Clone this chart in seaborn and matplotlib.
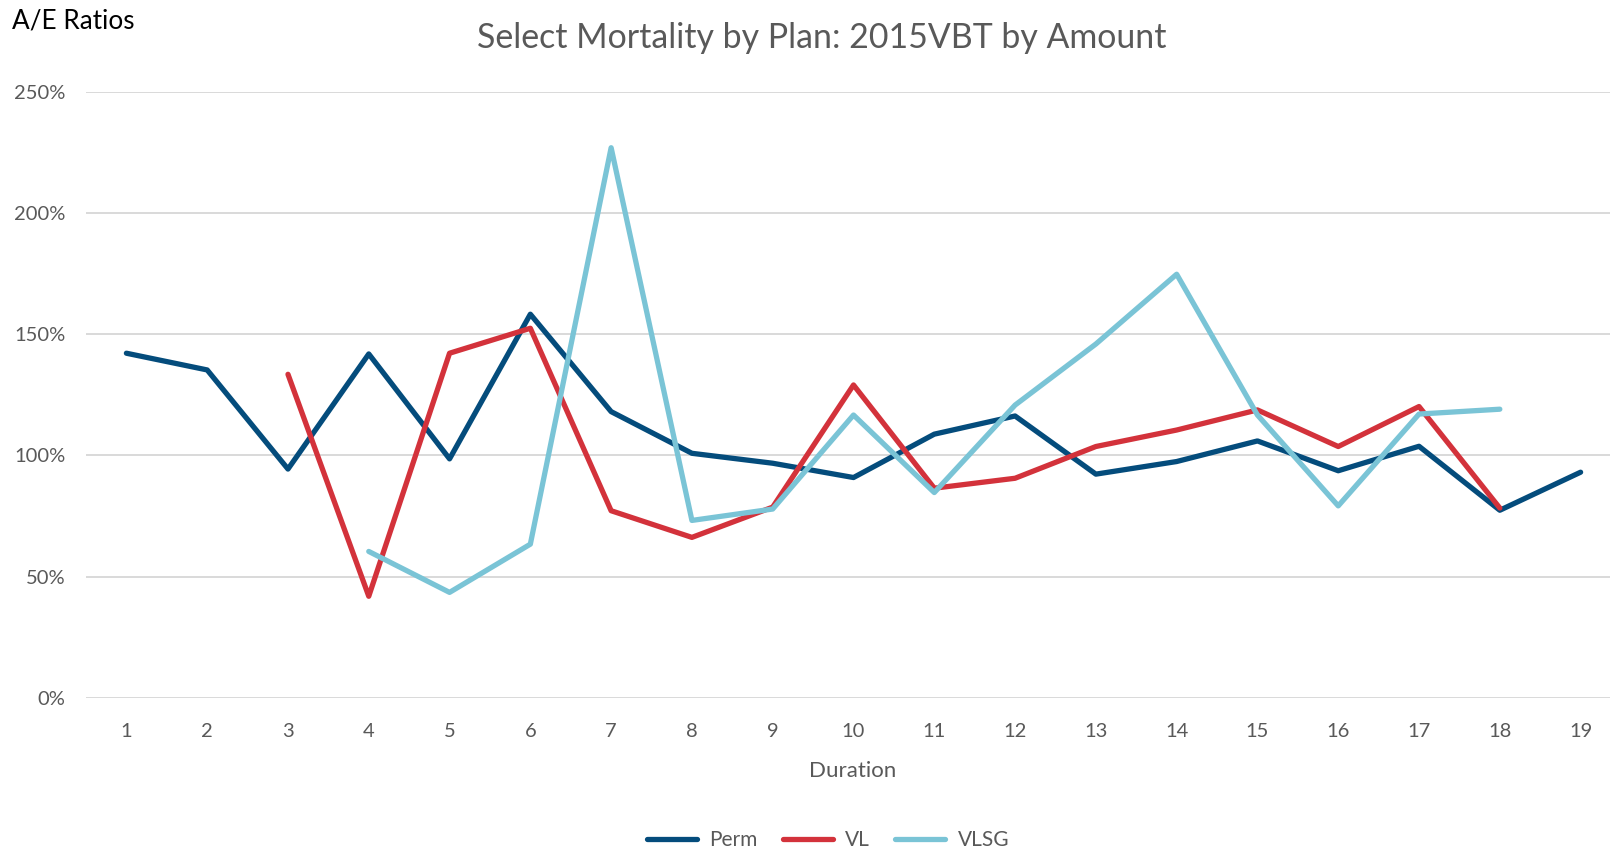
import numpy as np
import pandas as pd
import matplotlib
matplotlib.use("Agg")
import matplotlib.pyplot as plt
from matplotlib.lines import Line2D
from matplotlib.ticker import FuncFormatter, MultipleLocator
import seaborn as sns

# A/E ratios (%) by policy duration
durations = list(range(1, 20))
perm = [142.2, 135.3, 94.4, 141.9, 98.6, 158.3, 118.1, 100.9, 96.8, 90.9,
        108.8, 116.3, 92.3, 97.5, 106.0, 93.7, 103.8, 77.4, 93.1]
vl = [np.nan, np.nan, 133.5, 41.9, 142.2, 152.5, 77.2, 66.2, 78.7, 129.1,
      86.5, 90.6, 103.7, 110.5, 118.8, 103.7, 120.2, 78.3, np.nan]
vlsg = [np.nan, np.nan, np.nan, 60.4, 43.5, 63.4, 227.0, 73.2, 77.9, 116.7,
        84.7, 120.8, 146.0, 174.8, 116.7, 79.2, 117.1, 119.1, np.nan]
plans = ["Perm", "VL", "VLSG"]
colors = {"Perm": "#044C7C", "VL": "#D3323B", "VLSG": "#7AC4D6"}

df = pd.concat([
    pd.DataFrame({"Duration": durations, "AE": vals, "Plan": name})
    for name, vals in zip(plans, [perm, vl, vlsg])
]).dropna()

sns.set_theme(style="white")
plt.rcParams["font.family"] = ["Lato", "DejaVu Sans"]

W, H = 1610, 849
fig = plt.figure(figsize=(W / 100, H / 100), dpi=100)
ax = fig.add_axes([86 / W, 1 - 697.8 / H, (1621 - 86) / W, (697.8 - 92.0) / H])

sns.lineplot(data=df, x="Duration", y="AE", hue="Plan", hue_order=plans,
             palette=colors, linewidth=3.8, legend=False, sort=False, ax=ax,
             solid_capstyle="round", solid_joinstyle="round")

grey = "#595959"
ax.set_xlim(0.5, 19.5)
ax.set_ylim(0, 250)
ax.yaxis.set_major_locator(MultipleLocator(50))
ax.yaxis.set_major_formatter(FuncFormatter(lambda v, _: f"{v:.0f}%"))
ax.set_xticks(durations)
ax.set_xticklabels([str(d) for d in durations])
ax.grid(axis="y", color="#D9D9D9", linewidth=1.4)
ax.set_axisbelow(True)
for s in ax.spines.values():
    s.set_visible(False)
ax.tick_params(axis="both", length=0, colors=grey, labelsize=14.5)
ax.tick_params(axis="y", pad=15)
ax.tick_params(axis="x", pad=18.5)
ax.set_xlabel("")
ax.set_ylabel("")

fig.text(853 / W, 1 - 771 / H, "Duration", ha="center", va="center",
         fontsize=16, color=grey)
fig.text(822 / W, 1 - 38 / H, "Select Mortality by Plan: 2015VBT by Amount",
         ha="center", va="center", fontsize=24.4, color=grey)
fig.text(12 / W, 1 - 21.5 / H, "A/E Ratios", ha="left", va="center",
         fontsize=18.8, color="black")

handles = [Line2D([], [], color=colors[p], linewidth=3.8, solid_capstyle="round")
           for p in plans]
fig.legend(handles, plans, loc="center", bbox_to_anchor=(828 / W, 1 - 840 / H),
           ncol=3, frameon=False, fontsize=15, handlelength=2.4,
           handletextpad=0.6, columnspacing=1.2, labelcolor=grey)

fig.savefig("out.png", dpi=100)
